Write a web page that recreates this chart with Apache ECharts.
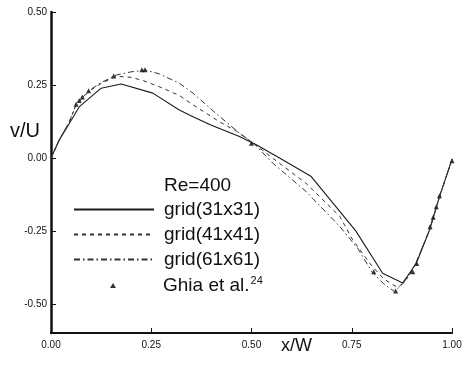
<!DOCTYPE html>
<html>
<head>
<meta charset="utf-8">
<script src="https://cdn.jsdelivr.net/npm/echarts@6/dist/echarts.min.js"></script>
<style>html,body{margin:0;padding:0;background:#fff}#c{width:468px;height:365px}</style>
</head>
<body>
<div id="c"></div>
<script>
// ---- data ----
const xTicks = [0, 0.25, 0.5, 0.75, 1.0];
const yTicks = [-0.5, -0.25, 0, 0.25, 0.5];

const g31X = [0, 0.02, 0.046, 0.071, 0.125, 0.175, 0.254, 0.32, 0.354, 0.40, 0.47, 0.512, 0.57, 0.649, 0.76, 0.827, 0.877, 0.911, 0.944, 0.969, 1.0];
const g31Y = [0, 0.06, 0.119, 0.176, 0.239, 0.253, 0.222, 0.164, 0.141, 0.112, 0.073, 0.045, 0.0, -0.064, -0.25, -0.395, -0.429, -0.361, -0.247, -0.132, -0.005];

const g41X = [0, 0.02, 0.046, 0.0625, 0.094, 0.125, 0.163, 0.20, 0.23, 0.27, 0.32, 0.354, 0.42, 0.462, 0.507, 0.553, 0.636, 0.72, 0.752, 0.80, 0.83, 0.865, 0.89, 0.91, 0.944, 0.969, 1.0];
const g41Y = [0, 0.06, 0.125, 0.18, 0.228, 0.255, 0.28, 0.276, 0.265, 0.244, 0.214, 0.182, 0.124, 0.092, 0.048, -0.001, -0.087, -0.20, -0.28, -0.37, -0.415, -0.445, -0.41, -0.36, -0.247, -0.132, -0.005];

const g61X = [0, 0.02, 0.046, 0.0625, 0.094, 0.125, 0.163, 0.20, 0.235, 0.27, 0.32, 0.354, 0.416, 0.47, 0.507, 0.553, 0.636, 0.72, 0.765, 0.80, 0.83, 0.857, 0.885, 0.91, 0.944, 0.969, 1.0];
const g61Y = [0, 0.06, 0.125, 0.183, 0.23, 0.258, 0.284, 0.295, 0.301, 0.288, 0.256, 0.222, 0.147, 0.085, 0.048, -0.018, -0.115, -0.235, -0.31, -0.39, -0.432, -0.458, -0.42, -0.36, -0.247, -0.132, -0.005];

const ghiaX = [0.0625, 0.0703, 0.0781, 0.0938, 0.1563, 0.2266, 0.2344, 0.5, 0.8047, 0.8594, 0.902, 0.912, 0.9453, 0.9531, 0.9609, 0.9688, 1.0];
const ghiaY = [0.184, 0.197, 0.209, 0.230, 0.281, 0.302, 0.302, 0.050, -0.390, -0.456, -0.390, -0.362, -0.236, -0.203, -0.167, -0.130, -0.010];

const names = ['grid(31x31)', 'grid(41x41)', 'grid(61x61)', 'Ghia et al.'];

// ---- build ----
const zip = (a, b) => a.map((v, i) => [v, b[i]]);
const FONT = 'Liberation Sans, Arial, sans-serif';
const INK = '#111';

const chart = echarts.init(document.getElementById('c'), null, {renderer: 'canvas'});

function legendAt(name, top, extra) {
  return Object.assign({
    data: [name], left: 73, top: top, orient: 'vertical',
    itemWidth: 80, itemHeight: 6, padding: 0, selectedMode: false,
    itemStyle: {color: 'transparent', borderWidth: 0, opacity: 0},
    textStyle: {fontFamily: FONT, fontSize: 19, color: INK, padding: [0, 0, 0, 5]}
  }, extra || {});
}

chart.setOption({
  animation: false,
  backgroundColor: '#fff',
  grid: {left: 51, right: 16, top: 12, bottom: 32},
  title: [
    {text: 'Re=400', left: 164, top: 176, padding: 0, textStyle: {fontFamily: FONT, fontSize: 19, fontWeight: 'normal', color: INK}},
    {text: 'v/U', left: 10, top: 121, padding: 0, textStyle: {fontFamily: FONT, fontSize: 20, fontWeight: 'normal', color: INK}},
    {text: 'x/W', left: 281, top: 337, padding: 0, textStyle: {fontFamily: FONT, fontSize: 18, fontWeight: 'normal', color: INK}}
  ],
  legend: [
    legendAt(names[0], 200),
    legendAt(names[1], 225),
    legendAt(names[2], 250),
    legendAt(names[3], 275, {
      left: 110, itemWidth: 6, itemHeight: 5,
      itemStyle: {color: '#000'},
      formatter: () => '{a|Ghia et al.}{s|24}',
      textStyle: {fontFamily: FONT, fontSize: 19, color: INK, padding: [0, 0, 0, 42],
        rich: {a: {fontFamily: FONT, fontSize: 19, color: INK},
               s: {fontFamily: FONT, fontSize: 11, color: INK, padding: [0, 0, 10, 1]}}}
    })
  ],
  xAxis: {
    type: 'value', min: 0, max: 1, interval: 0.25,
    axisLine: {onZero: false, lineStyle: {color: INK, width: 2.2}},
    axisTick: {inside: true, length: 5, lineStyle: {color: INK, width: 1}},
    axisLabel: {fontFamily: FONT, fontSize: 10, color: INK, margin: 7, formatter: v => v.toFixed(2)},
    splitLine: {show: false}
  },
  yAxis: {
    type: 'value', min: -0.6, max: 0.5,
    axisLine: {show: true, lineStyle: {color: INK, width: 2.5}},
    axisTick: {show: true, inside: true, length: 5, customValues: yTicks, lineStyle: {color: INK, width: 1}},
    axisLabel: {fontFamily: FONT, fontSize: 10, color: INK, margin: 4, customValues: yTicks, formatter: v => v.toFixed(2)},
    splitLine: {show: false}
  },
  series: [
    {name: names[0], type: 'line', data: zip(g31X, g31Y), showSymbol: false, symbol: 'none',
     lineStyle: {color: '#1a1a1a', width: 1.1, type: 'solid'}, itemStyle: {color: '#1a1a1a'}},
    {name: names[1], type: 'line', data: zip(g41X, g41Y), showSymbol: false, symbol: 'none',
     lineStyle: {color: '#333', width: 1, type: [4, 4]}, itemStyle: {color: '#333'}},
    {name: names[2], type: 'line', data: zip(g61X, g61Y), showSymbol: false, symbol: 'none',
     lineStyle: {color: '#333', width: 1, type: [6, 3, 1.5, 3]}, itemStyle: {color: '#333'}},
    {name: names[3], type: 'scatter', data: zip(ghiaX, ghiaY), symbol: 'triangle', symbolSize: 5,
     itemStyle: {color: '#000'}}
  ]
});
</script>
</body>
</html>
